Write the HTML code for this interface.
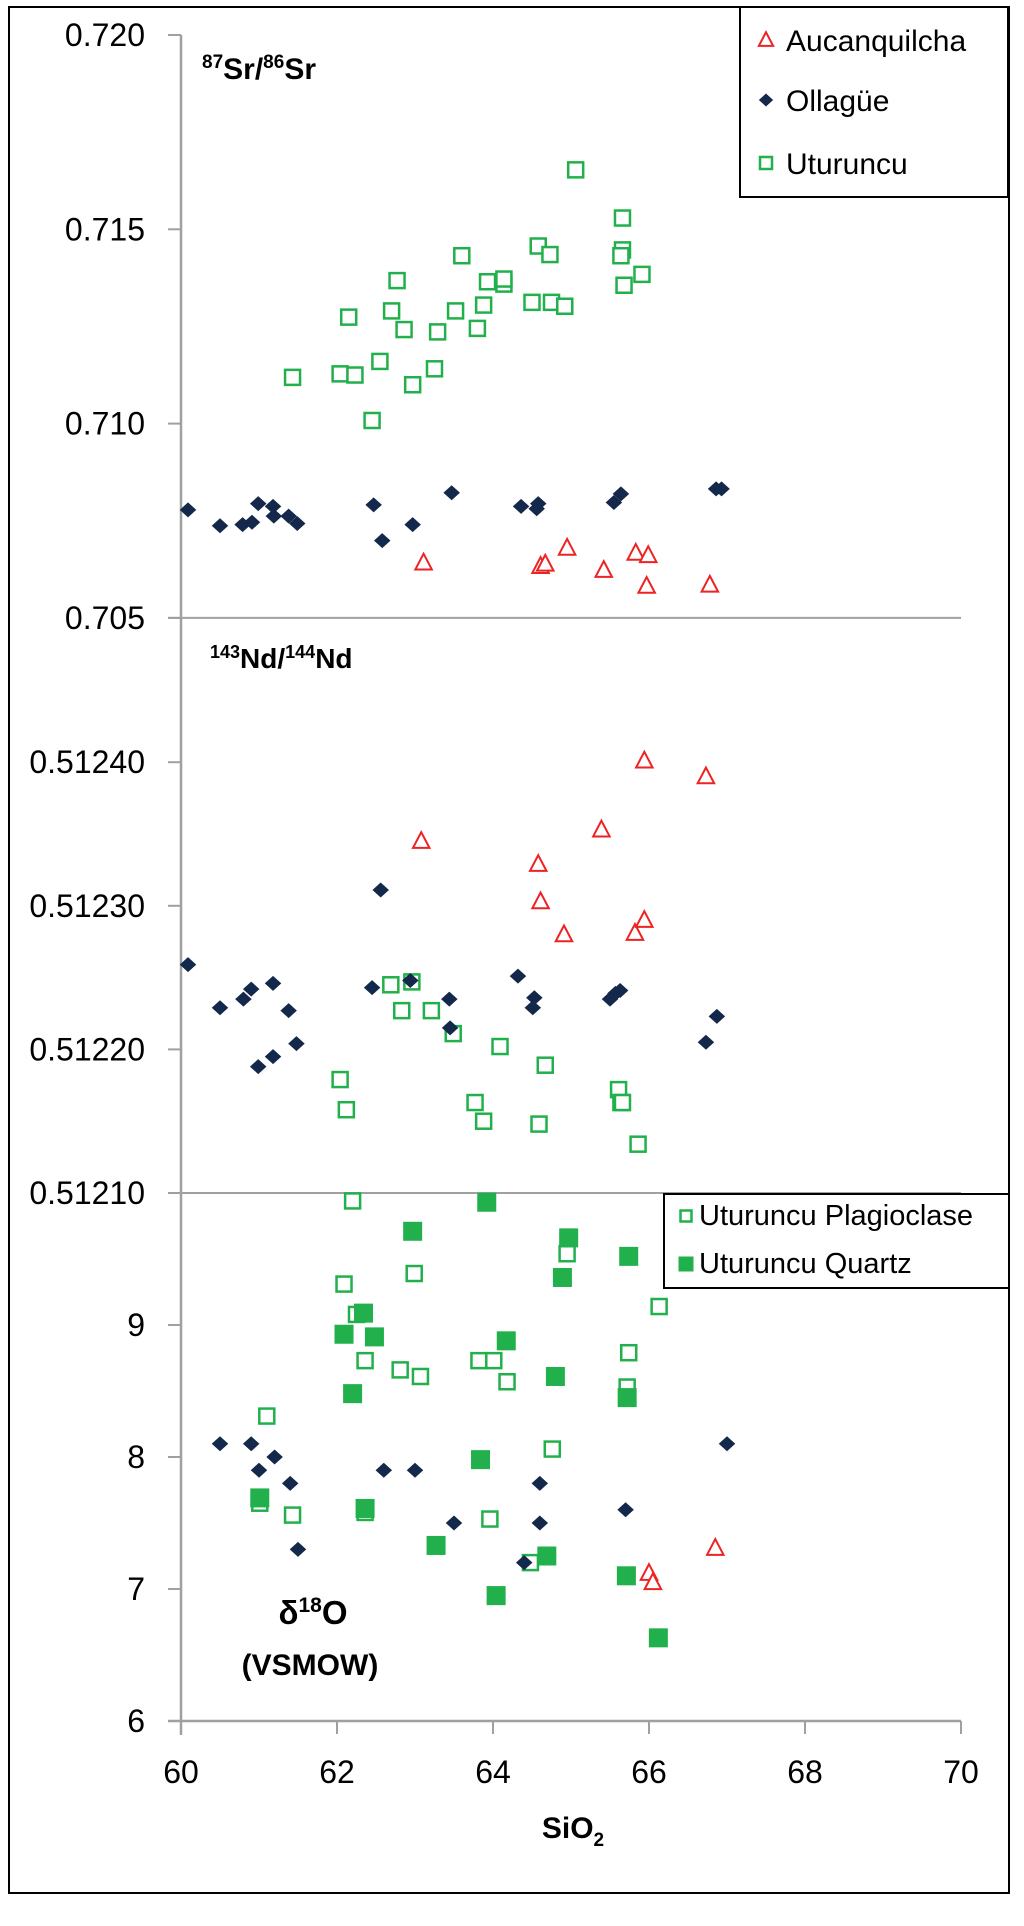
<!DOCTYPE html>
<html><head><meta charset="utf-8">
<style>
html,body{margin:0;padding:0;background:#fff;}
svg{display:block;font-family:"Liberation Sans",sans-serif;}
</style></head>
<body>
<svg id="chart" width="1024" height="1926" viewBox="0 0 1024 1926" xmlns="http://www.w3.org/2000/svg">
<rect x="9" y="7" width="1000" height="1886" fill="#fff" stroke="#000" stroke-width="2"/>
<g id="axes"></g>
<g id="marks"></g>
<g font-weight="bold" fill="#000">
<text x="202" y="79" font-size="30"><tspan font-size="19" dy="-11">87</tspan><tspan dy="11">Sr/</tspan><tspan font-size="19" dy="-11">86</tspan><tspan dy="11">Sr</tspan></text>
<text x="210" y="668" font-size="28"><tspan font-size="18" dy="-10">143</tspan><tspan dy="10">Nd/</tspan><tspan font-size="18" dy="-10">144</tspan><tspan dy="10">Nd</tspan></text>
<text x="313" y="1624" font-size="33" text-anchor="middle">δ<tspan font-size="21" dy="-12">18</tspan><tspan dy="12">O</tspan></text>
<text x="310" y="1675" font-size="30" text-anchor="middle">(VSMOW)</text>
<text x="573" y="1838" font-size="30" text-anchor="middle">SiO<tspan font-size="19" dy="8">2</tspan></text>
</g>
<g id="legends"></g>
</svg>
<script>
// ---- data ----
const xTicks=[60,62,64,66,68,70];
const srTicks=["0.720","0.715","0.710","0.705"];
const ndTicks=["0.51240","0.51230","0.51220","0.51210"];
const oTicks=["9","8","7","6"];

const aucSrX=[63.11,64.61,64.67,64.95,65.42,65.83,65.99,65.97,66.78];
const aucSrY=[0.70642,0.70633,0.70639,0.70680,0.70623,0.70667,0.70661,0.70582,0.70585];
const ollSrX=[60.09,60.50,60.79,60.91,60.99,61.18,61.19,61.38,61.49,62.47,62.58,62.97,63.47,64.36,64.56,64.58,65.55,65.64,66.86,66.93];
const ollSrY=[0.70778,0.70737,0.70740,0.70746,0.70794,0.70787,0.70762,0.70762,0.70743,0.70791,0.70699,0.70740,0.70822,0.70787,0.70781,0.70794,0.70797,0.70819,0.70832,0.70832];
const utuSrX=[61.43,62.04,62.23,62.15,62.55,62.45,62.70,62.77,62.86,62.97,63.25,63.29,63.52,63.60,63.80,63.88,63.93,64.14,64.14,64.50,64.75,64.92,64.58,64.73,65.06,65.66,65.66,65.64,65.68,65.91];
const utuSrY=[0.71119,0.71128,0.71125,0.71274,0.71160,0.71008,0.71290,0.71368,0.71242,0.71100,0.71141,0.71236,0.71290,0.71432,0.71245,0.71305,0.71365,0.71359,0.71372,0.71312,0.71312,0.71302,0.71457,0.71435,0.71653,0.71529,0.71447,0.71432,0.71356,0.71384];

const aucNdX=[63.08,64.58,64.61,64.91,65.39,65.94,65.82,65.94,66.73];
const aucNdY=[0.512345,0.512329,0.512303,0.512280,0.512353,0.512401,0.512281,0.512290,0.512390];
const ollNdX=[60.09,60.50,60.80,60.90,61.18,60.99,61.18,61.38,61.48,62.45,62.56,62.94,63.44,63.45,64.32,64.53,64.51,65.50,65.57,65.63,66.73,66.87];
const ollNdY=[0.512259,0.512229,0.512235,0.512242,0.512246,0.512188,0.512195,0.512227,0.512204,0.512243,0.512311,0.512248,0.512235,0.512215,0.512251,0.512236,0.512229,0.512235,0.512239,0.512241,0.512205,0.512223];
const utuNdX=[62.04,62.12,62.69,62.96,62.83,63.21,63.49,64.09,63.77,63.88,64.59,64.67,65.61,65.64,65.66,65.86];
const utuNdY=[0.512179,0.512158,0.512245,0.512247,0.512227,0.512227,0.512211,0.512202,0.512163,0.512150,0.512148,0.512189,0.512172,0.512163,0.512163,0.512134];

const plagOX=[62.20,62.09,62.25,62.36,62.99,62.81,63.07,61.10,61.01,61.43,62.36,63.82,64.01,64.18,63.96,64.48,64.76,64.95,65.72,65.74,66.13];
const plagOY=[9.94,9.31,9.08,8.73,9.39,8.66,8.61,8.31,7.65,7.56,7.58,8.73,8.73,8.57,7.53,7.20,8.06,9.54,8.53,8.79,9.14];
const qtzOX=[62.97,63.92,64.97,65.74,62.34,62.09,62.48,62.20,64.17,64.89,64.80,65.72,63.84,61.01,62.36,63.27,64.04,64.69,65.71,66.12];
const qtzOY=[9.71,9.93,9.66,9.52,9.09,8.93,8.91,8.48,8.88,9.36,8.61,8.45,7.98,7.69,7.61,7.33,6.95,7.25,7.10,6.63];
const ollOX=[60.5,60.9,61.0,61.2,61.4,61.5,62.6,63.0,63.5,64.4,64.6,64.6,65.7,67.0];
const ollOY=[8.1,8.1,7.9,8.0,7.8,7.3,7.9,7.9,7.5,7.2,7.8,7.5,7.6,8.1];
const aucOX=[66.0,66.05,66.85];
const aucOY=[7.12,7.05,7.31];

// ---- scales ----
const X=v=>181+(v-60)*78;
const Y1=v=>35+(0.720-v)*38860;
const Y2=v=>1193-(v-0.5121)*1436000;
const Y3=v=>1721-(v-6)*132;

const NS="http://www.w3.org/2000/svg";
function mk(tag,attrs,parent){const e=document.createElementNS(NS,tag);for(const k in attrs)e.setAttribute(k,attrs[k]);parent.appendChild(e);return e;}
const axes=document.getElementById('axes');
const marks=document.getElementById('marks');
const legends=document.getElementById('legends');
const GRAY="#a0a0a0";
const GREEN="#21b04b", NAVY="#13284a", RED="#ee2222";

let l=mk('line',{x1:181,y1:35,x2:181,y2:1735,stroke:GRAY,'stroke-width':2.5},axes);


l=mk('line',{x1:168,y1:1721,x2:961,y2:1721,stroke:GRAY,'stroke-width':2.5},axes);


l=mk('line',{x1:168,y1:Y1(0.705),x2:961,y2:Y1(0.705),stroke:GRAY,'stroke-width':2},axes);


l=mk('line',{x1:168,y1:Y2(0.5121),x2:961,y2:Y2(0.5121),stroke:GRAY,'stroke-width':2},axes);



function yTick(label,y,name){
  const t=mk('line',{x1:168,y1:y,x2:181,y2:y,stroke:GRAY,'stroke-width':2},axes);
  
  
  const tx=mk('text',{x:145,y:y+11,'font-size':32,'text-anchor':'end',fill:'#000'},axes);
  tx.textContent=label;
  
  
}
srTicks.forEach(s=>yTick(s,Y1(parseFloat(s)),'sr-y'));
ndTicks.forEach(s=>yTick(s,Y2(parseFloat(s)),'nd-y'));
oTicks.forEach(s=>yTick(s,Y3(parseFloat(s)),'o-y'));
xTicks.forEach(v=>{
  const t=mk('line',{x1:X(v),y1:1721,x2:X(v),y2:1734,stroke:GRAY,'stroke-width':2},axes);
  
  
  const tx=mk('text',{x:X(v),y:1783,'font-size':32,'text-anchor':'middle',fill:'#000'},axes);
  tx.textContent=String(v);
  
  
});

function tri(cx,cy,p,s){return mk('path',{d:`M${cx} ${cy-s*0.6}L${cx+s*0.55} ${cy+s*0.45}L${cx-s*0.55} ${cy+s*0.45}Z`,fill:'#fff',stroke:RED,'stroke-width':2},p);}
function dia(cx,cy,p,s){return mk('path',{d:`M${cx} ${cy-s*0.5}L${cx+s*0.55} ${cy}L${cx} ${cy+s*0.5}L${cx-s*0.55} ${cy}Z`,fill:NAVY},p);}
function osq(cx,cy,p,s){return mk('rect',{x:cx-s/2,y:cy-s/2,width:s,height:s,fill:'#fff',stroke:GREEN,'stroke-width':2.5},p);}
function fsq(cx,cy,p,s){return mk('rect',{x:cx-s/2,y:cy-s/2,width:s,height:s,fill:GREEN},p);}

function series(xs,ys,ys2px,fn,size,name){
  xs.forEach((x,i)=>{
    const m=fn(X(x),ys2px(ys[i]),marks,size);
    
    
  });
}
series(utuSrX,utuSrY,Y1,osq,15,'uturuncu-sr-point');
series(ollSrX,ollSrY,Y1,dia,15,'ollague-sr-point');
series(aucSrX,aucSrY,Y1,tri,15,'aucanquilcha-sr-point');
series(utuNdX,utuNdY,Y2,osq,15,'uturuncu-nd-point');
series(ollNdX,ollNdY,Y2,dia,15,'ollague-nd-point');
series(aucNdX,aucNdY,Y2,tri,15,'aucanquilcha-nd-point');
series(plagOX,plagOY,Y3,osq,15,'plagioclase-o-point');
series(qtzOX,qtzOY,Y3,fsq,19,'quartz-o-point');
series(ollOX,ollOY,Y3,dia,15,'ollague-o-point');
series(aucOX,aucOY,Y3,tri,15,'aucanquilcha-o-point');

let b=mk('rect',{x:740,y:7,width:268,height:190,fill:'#fff',stroke:'#000','stroke-width':2},legends);


const leg1=[["Aucanquilcha",tri,40],["Ollagüe",dia,100],["Uturuncu",osq,163]];
leg1.forEach(([t,fn,y])=>{
  const m=fn(766,y,legends,fn===osq?12:13);
  
  
  const tx=mk('text',{x:786,y:y+11,'font-size':30,fill:'#000'},legends);
  tx.textContent=t;
  
  
});
b=mk('rect',{x:664,y:1194,width:345,height:94,fill:'#fff',stroke:'#000','stroke-width':2},legends);


const leg2=[["Uturuncu Plagioclase",osq,1214],["Uturuncu Quartz",fsq,1262]];
leg2.forEach(([t,fn,y])=>{
  const m=fn(686,y+2,legends,fn===osq?11:15);
  
  
  const tx=mk('text',{x:699,y:y+11,'font-size':29,fill:'#000'},legends);
  tx.textContent=t;
  
  
});
</script>
</body></html>
